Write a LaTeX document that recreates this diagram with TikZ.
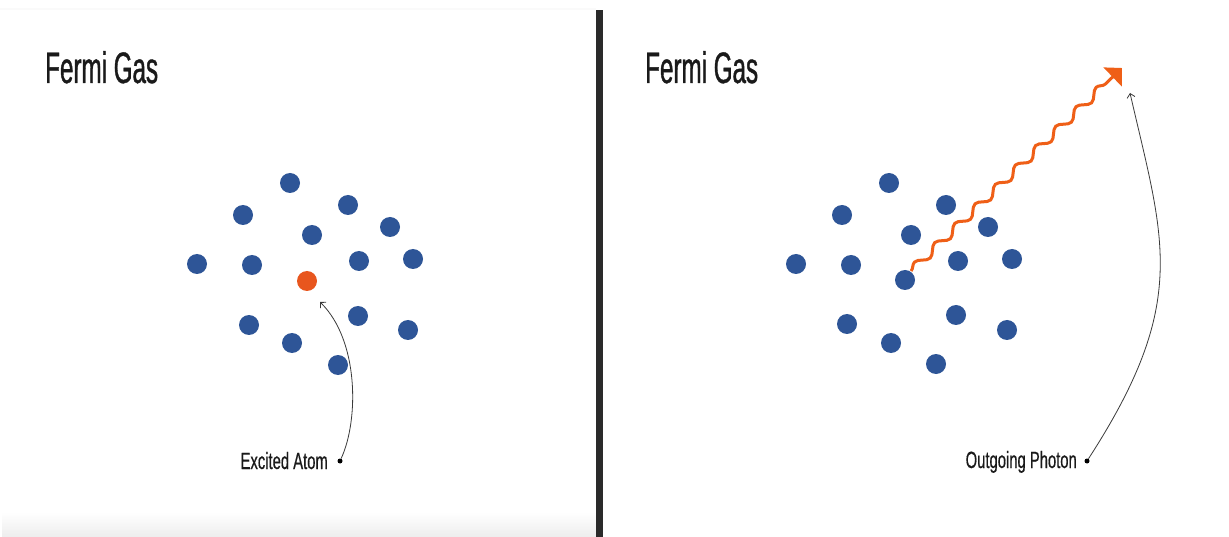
\documentclass[tikz,border=0pt]{standalone}
\usepackage{fontspec}
\setmainfont{Liberation Sans}
\newfontfamily\titlefont{Liberation Sans}[FakeStretch=0.55,FakeBold=0.8]
\newfontfamily\labfont{Liberation Sans}[FakeStretch=0.63,FakeBold=0.5]
\usetikzlibrary{arrows.meta,decorations.pathmorphing}
\definecolor{atomblue}{HTML}{2E5597}
\definecolor{excorange}{HTML}{E8561E}
\definecolor{photonorange}{HTML}{EF5F17}
\definecolor{divgray}{HTML}{2A2A2A}
\definecolor{inkgray}{HTML}{3A3A3A}
\definecolor{textblack}{HTML}{1A1A1A}
\begin{document}
\begin{tikzpicture}[x=1pt,y=-1pt,
  atom/.style={circle, fill=atomblue, minimum size=20pt, inner sep=0pt},
  excited/.style={atom, fill=excorange},
  titletext/.style={anchor=base west, inner sep=0pt, text=textblack, font=\titlefont\fontsize{44}{48}\selectfont},
  lab/.style={anchor=base east, inner sep=0pt, text=textblack, font=\labfont\fontsize{23.5}{26}\selectfont},
  labdot/.style={circle, fill=black, minimum size=5pt, inner sep=0pt},
  conn/.style={draw=inkgray, line width=0.8pt, -{Straight Barb[length=4pt,width=8pt]}},
  photon/.style={draw=photonorange, line width=3pt, decorate,
    decoration={snake, segment length=28pt, amplitude=4pt, post length=12pt},
    -{Triangle[length=13pt,width=26pt]}}
]
\useasboundingbox (0,0) rectangle (1229,537);
\fill[white] (0,0) rectangle (1229,537);
% panel shading
\shade[top color=white, bottom color=gray!14] (2,512) rectangle (596,537);
\fill[gray!4] (0,8) rectangle (596,10);
% divider
\fill[divgray] (596,10) rectangle (603,537);

% titles
\node[titletext] (t1) at (45,83) {Fermi Gas};
\node[titletext] (t2) at (645,83) {Fermi Gas};

% left atoms
\foreach \px/\py/\n in {290/183/1, 243/215/2, 348/205/3, 312/235/4, 390/227/5,
  197/264/6, 252/265/7, 359/261/8, 413/259/9, 249/325/11, 292/343/12,
  358/316/13, 408/330/14, 338/365/15}
  \node[atom] (l\n) at (\px,\py) {};
\node[excited] (l10) at (307,281) {};

% right photon (drawn before atoms)
\coordinate (r10c) at (905,280);
\coordinate (phtip) at (1122,68);
\draw[photon] (r10c) ++(6,-9) -- (phtip);

% right atoms
\foreach \px/\py/\n in {889/183/1, 842/215/2, 946/205/3, 911/235/4, 988/227/5,
  796/264/6, 851/265/7, 958/261/8, 1012/259/9, 905/280/10, 847/324/11,
  891/343/12, 956/315/13, 1007/330/14, 936/364/15}
  \node[atom] (r\n) at (\px,\py) {};

% labels
\node[lab] (exlab) at (328,469) {Excited Atom};
\node[labdot] (exdot) at (340,461) {};
\coordinate (exend) at (320,302);
\draw[conn] (exdot) .. controls (359,420) and (359,340) .. (exend);

\node[lab] (phlab) at (1077,468) {Outgoing Photon};
\node[labdot] (phdot) at (1087,461) {};
\coordinate (phend) at (1130,93);
\draw[conn] (phdot) .. controls (1190,302) and (1164,241) .. (phend);
\end{tikzpicture}
\end{document}
